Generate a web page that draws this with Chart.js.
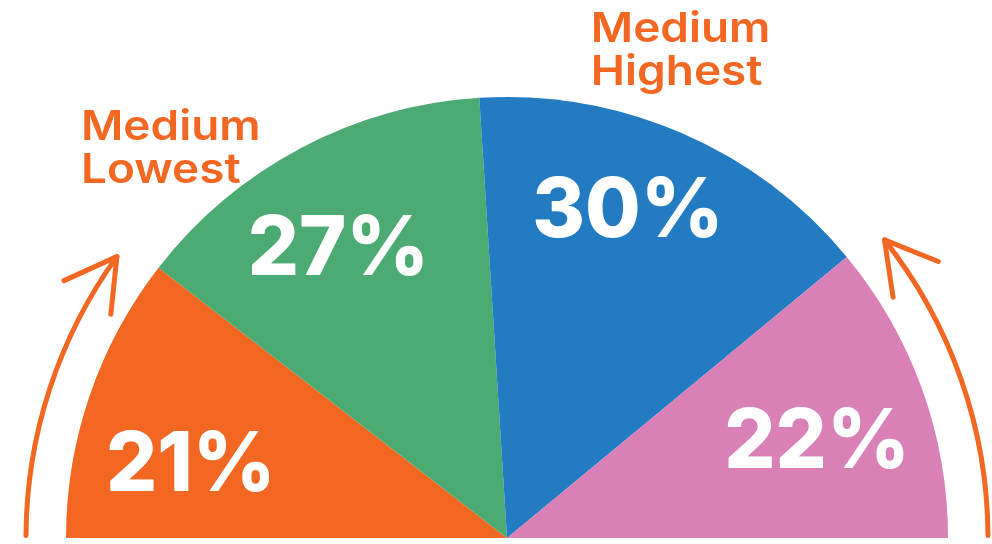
<!DOCTYPE html>
<html>
<head>
<meta charset="utf-8">
<script src="https://cdn.jsdelivr.net/npm/chart.js@4.4.0/dist/chart.umd.min.js"></script>
<style>
html,body{margin:0;padding:0;background:#fff;}
#wrap{width:992px;height:544px;position:relative;}
</style>
</head>
<body>
<div id="wrap"><canvas id="c" width="992" height="544"></canvas></div>
<script>
const categories = ["Low", "Medium Lowest", "Medium Highest", "High"];
const values = [21, 27, 30, 22];
const colors = ["#F26722", "#4CAA73", "#237CC2", "#D980B6"];
const labelAngleShift = [-5.5, -2.2, -3.2, 2.3];   // degrees, label placement tweak
const labelRadiusFrac = [0.737, 0.762, 0.794, 0.737];
const notes = [
  {lines: ["Medium", "Lowest"], slice: 1},
  {lines: ["Medium", "Highest"], slice: 2}
];
const orange = "#F26722";

const overlay = {
  id: 'overlay',
  afterDatasetsDraw(chart) {
    const ctx = chart.ctx;
    const meta = chart.getDatasetMeta(0);
    const a0 = meta.data[0];
    const cx = a0.x, cy = a0.y, R = a0.outerRadius;
    // percent labels
    ctx.save();
    ctx.fillStyle = "#ffffff";
    ctx.textAlign = "center";
    ctx.textBaseline = "middle";
    ctx.font = "800 83px Inter, 'Open Sans', sans-serif";
    meta.data.forEach((arc, i) => {
      const mid = (arc.startAngle + arc.endAngle) / 2 + labelAngleShift[i] * Math.PI / 180;
      const r = R * labelRadiusFrac[i];
      const x = cx + r * Math.cos(mid);
      const y = cy + r * Math.sin(mid);
      ctx.save();
      ctx.translate(x, y + 3);
      ctx.scale(0.97, 1);
      ctx.fillText(values[i] + "%", 0, 0);
      ctx.restore();
    });
    ctx.restore();

    // annotation texts
    function note(lines, x, y1, y2) {
      ctx.save();
      ctx.fillStyle = orange;
      ctx.textAlign = "left";
      ctx.textBaseline = "alphabetic";
      ctx.font = "600 41px Inter, 'Open Sans', sans-serif";
      ctx.translate(x, 0);
      ctx.scale(1.12, 1);
      ctx.fillText(lines[0], 0, y1);
      ctx.fillText(lines[1], 0, y2);
      ctx.restore();
    }
    note(notes[0].lines, cx - R * 0.966, 140, 183);
    note(notes[1].lines, cx + R * 0.19, 42, 85);

    // arrows
    const rr = R + 40;
    ctx.save();
    ctx.strokeStyle = orange;
    ctx.lineWidth = 5;
    ctx.lineCap = "round";
    ctx.lineJoin = "round";
    function arrow(startA, endA, ccw) {
      ctx.beginPath();
      ctx.arc(cx, cy, rr, startA, endA, ccw);
      ctx.stroke();
      const tx = cx + rr * Math.cos(endA), ty = cy + rr * Math.sin(endA);
      const dir = ccw ? -1 : 1;
      const tang = endA + dir * Math.PI / 2;
      const back = tang + Math.PI;
      const len = 58;
      const spread = 0.52;
      ctx.beginPath();
      ctx.moveTo(tx + len * Math.cos(back - spread), ty + len * Math.sin(back - spread));
      ctx.lineTo(tx, ty);
      ctx.lineTo(tx + len * Math.cos(back + spread), ty + len * Math.sin(back + spread));
      ctx.stroke();
    }
    arrow(Math.PI + 0.005, Math.PI + 35.8 * Math.PI / 180, false);
    arrow(-0.005, -38.3 * Math.PI / 180, true);
    ctx.restore();
  }
};

new Chart(document.getElementById('c'), {
  type: 'doughnut',
  data: {
    labels: categories,
    datasets: [{
      data: values,
      backgroundColor: colors,
      borderWidth: 0,
      hoverOffset: 0
    }]
  },
  options: {
    responsive: false,
    animation: false,
    rotation: -90,
    circumference: 180,
    cutout: 0,
    layout: { padding: { left: 66, right: 44, top: 97, bottom: 6 } },
    plugins: { legend: { display: false }, tooltip: { enabled: false } }
  },
  plugins: [overlay]
});
</script>
</body>
</html>
